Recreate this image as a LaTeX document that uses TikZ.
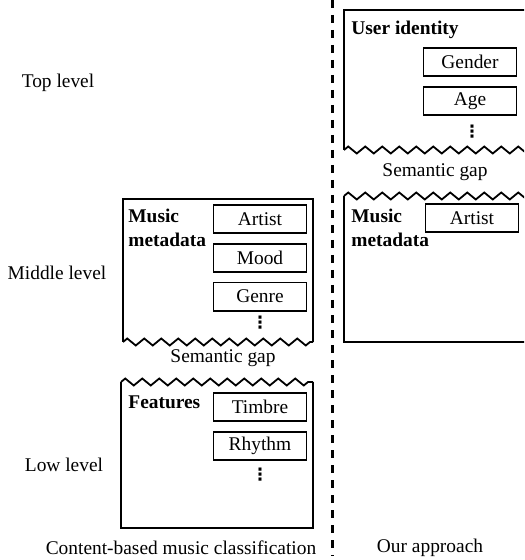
\documentclass[tikz,border=0pt]{standalone}
\usepackage{fontspec}
\setmainfont{Liberation Serif}
\newfontfamily\symfont{DejaVu Sans}
\usetikzlibrary{positioning,decorations.pathmorphing}

\begin{document}
\begin{tikzpicture}[
    x=0.5pt,y=-0.5pt,
    font=\fontsize{9.7}{11.6}\selectfont,
    node distance=4.5pt,
    frame/.style={line width=0.9pt},
    wavy/.style={frame,decorate,decoration={zigzag,segment length=8.5pt,amplitude=1.75pt}},
    item/.style={draw,line width=0.9pt,minimum width=46.5pt,minimum height=14pt,inner sep=0pt},
    head/.style={font=\fontsize{9.7}{11.6}\selectfont\bfseries,align=left,anchor=north west,inner sep=0pt},
    lbl/.style={inner sep=0pt},
    ellip/.style={inner sep=0pt,font=\fontsize{8.5}{9}\symfont\bfseries},
    divider/.style={line width=1.5pt,dash pattern=on 4pt off 3.5pt}
  ]
  \clip (0,0) rectangle (524,560);

  % level labels
  \node[lbl] (toplvl) at (58,83) {Top level};
  \node[lbl] (midlvl) at (57,273) {Middle level};
  \node[lbl] (lowlvl) at (64,465) {Low level};

  % content-based side
  \draw[frame] (313,342) -- (313,199) -- (123,199) -- (123,342);
  \draw[wavy] (123,342) -- (313,342);
  \node[head] (metaA) at (128,209) {Music\\metadata};
  \node[item] (artistA) at (260,219) {Artist};
  \node[item,below=of artistA] (moodA) {Mood};
  \node[item,below=of moodA] (genreA) {Genre};
  \node[ellip] (dotsA) at (260,323) {⋮};

  \node[lbl] (gapA) at (223,358) {Semantic gap};

  \draw[wavy] (121,382) -- (313,382);
  \draw[frame] (121,382) -- (121,528) -- (313,528) -- (313,382);
  \node[head] (feat) at (128,395) {Features};
  \node[item] (timbre) at (260,407) {Timbre};
  \node[item,below=of timbre] (rhythm) {Rhythm};
  \node[ellip] (dotsF) at (260,475) {⋮};

  % divider
  \coordinate (divtop) at (332,0);
  \coordinate (divbot) at (332,556);
  \draw[divider] (divtop) -- (divbot);

  % our approach side
  \draw[frame] (344,150) -- (344,10) -- (540,10) -- (540,150);
  \draw[wavy] (344,150) -- (540,150);
  \node[head] (user) at (351,21) {User identity};
  \node[item] (gender) at (470,62) {Gender};
  \node[item,below=of gender] (age) {Age};
  \node[ellip] (dotsU) at (472,132) {⋮};

  \node[lbl] (gapB) at (435,172) {Semantic gap};

  \draw[wavy] (344,196) -- (540,196);
  \draw[frame] (344,196) -- (344,342) -- (540,342) -- (540,196);
  \node[head] (metaB) at (351,209) {Music\\metadata};
  \node[item] (artistB) at (472,218) {Artist};

  % captions
  \node[lbl] (capA) at (181,548) {Content-based music classification};
  \node[lbl] (capB) at (430,548) {Our approach};
\end{tikzpicture}
\end{document}
